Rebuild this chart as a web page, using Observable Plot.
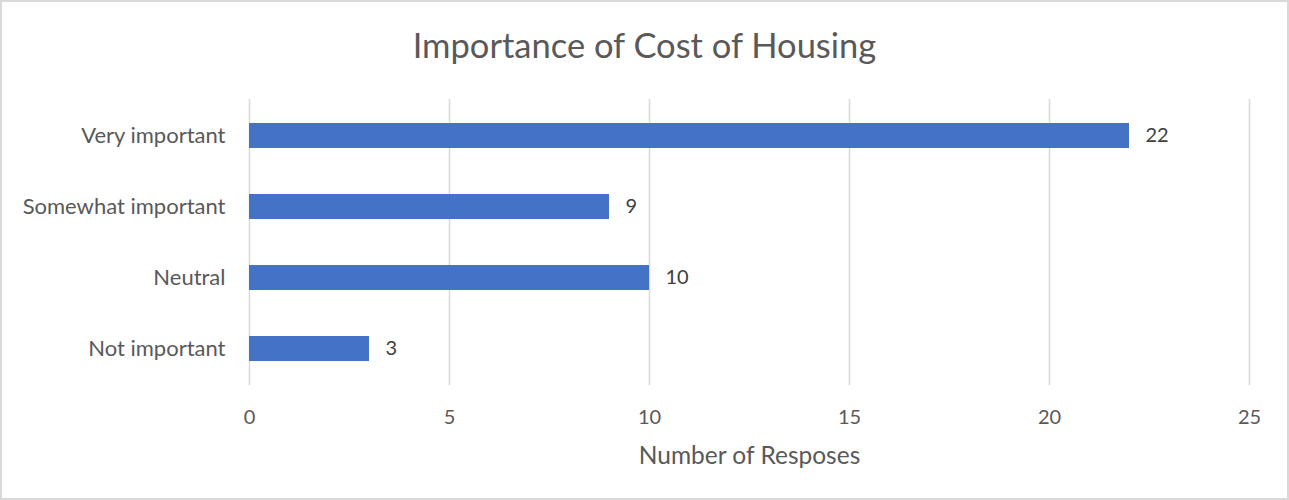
<!DOCTYPE html>
<html>
<head>
<meta charset="utf-8">
<script src="https://cdn.jsdelivr.net/npm/d3@7"></script>
<script src="https://cdn.jsdelivr.net/npm/@observablehq/plot@0.6"></script>
<style>
  html, body { margin: 0; padding: 0; background: #fff; }
  #wrap { position: relative; width: 1289px; height: 500px; font-family: Lato, "Open Sans", sans-serif; }
  #title { position: absolute; left: 0; width: 1289px; top: 23px; text-align: center; font-size: 34.5px; color: #595959; line-height: 44px; }
  #border { position: absolute; left: 0; top: 0; width: 1289px; height: 500px; box-sizing: border-box; border: 2px solid #d9d9d9; pointer-events: none; }
  #chart svg { display: block; }
</style>
</head>
<body>
<div id="wrap">
  <div id="chart"></div>
  <div id="title">Importance of Cost of Housing</div>
  <div id="border"></div>
</div>
<script>
const categories = ["Very important", "Somewhat important", "Neutral", "Not important"];
const responses = [22, 9, 10, 3];
const xTicks = [0, 5, 10, 15, 20, 25];
const xLabel = "Number of Resposes";

const data = categories.map((c, i) => ({category: c, value: responses[i]}));

const chart = Plot.plot({
  width: 1289,
  height: 500,
  marginLeft: 249,
  marginRight: 40,
  marginTop: 99,
  marginBottom: 115,
  style: {fontFamily: "Lato, 'Open Sans', sans-serif", fontSize: "20px", color: "#595959", background: "transparent"},
  x: {domain: [0, 25], ticks: xTicks, label: null},
  y: {domain: categories, label: null, paddingInner: 0.65, paddingOuter: 0.325},
  marks: [
    Plot.gridX(xTicks, {stroke: "#d9d9d9", strokeOpacity: 1, strokeWidth: 1.5}),
    Plot.barX(data, {x: "value", y: "category", fill: "#4472c4"}),
    Plot.text(data, {x: "value", y: "category", text: d => String(d.value), textAnchor: "start", dx: 16, fill: "#404040", fontSize: 20}),
    Plot.axisX(xTicks, {tickSize: 0, tickPadding: 24, fill: "#595959", fontSize: 20, label: null}),
    Plot.axisY({tickSize: 0, tickPadding: 24, fill: "#595959", fontSize: 22, label: null}),
    Plot.text([xLabel], {frameAnchor: "bottom", dy: 78, text: d => d, fill: "#595959", fontSize: 24.5})
  ]
});
document.getElementById("chart").appendChild(chart);
</script>
</body>
</html>
